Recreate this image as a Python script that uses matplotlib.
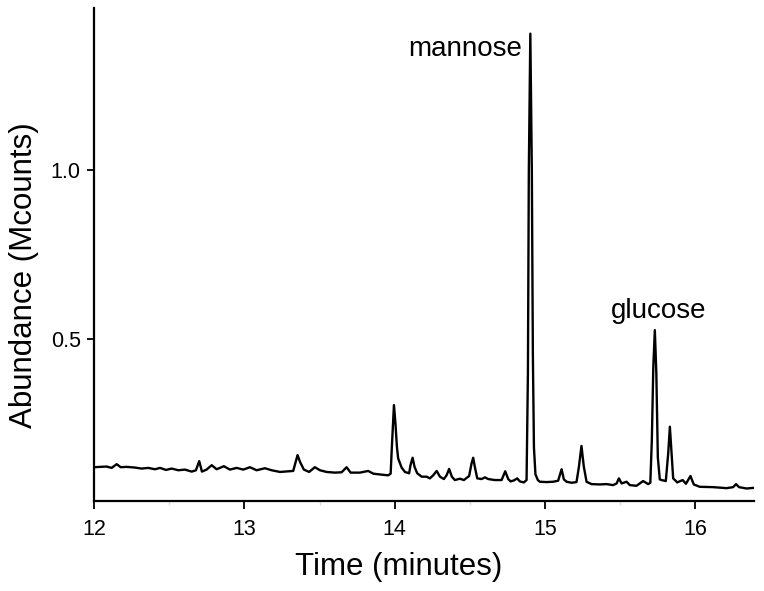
import matplotlib
matplotlib.use("Agg")
import matplotlib.pyplot as plt
from matplotlib.ticker import MultipleLocator

plt.rcParams['font.family'] = ['Liberation Sans', 'DejaVu Sans']

# Retention time (minutes) and abundance (Mcounts)
time_min = [
    12.000, 12.040, 12.084, 12.118, 12.151, 12.178, 12.217, 12.273, 12.317, 12.361,
    12.406, 12.439, 12.479, 12.517, 12.561, 12.605, 12.650, 12.678, 12.700, 12.718,
    12.749, 12.783, 12.816, 12.864, 12.904, 12.949, 12.993, 13.037, 13.082, 13.137,
    13.182, 13.237, 13.292, 13.325, 13.354, 13.370, 13.396, 13.431, 13.469, 13.503,
    13.547, 13.602, 13.647, 13.680, 13.707, 13.769, 13.824, 13.857, 13.913, 13.957,
    13.973, 13.981, 13.995, 14.005, 14.015, 14.023, 14.046, 14.068, 14.096, 14.105,
    14.119, 14.132, 14.150, 14.179, 14.212, 14.234, 14.256, 14.279, 14.301, 14.327,
    14.345, 14.362, 14.380, 14.400, 14.434, 14.460, 14.495, 14.511, 14.522, 14.533,
    14.549, 14.578, 14.600, 14.622, 14.666, 14.711, 14.735, 14.755, 14.771, 14.793,
    14.815, 14.832, 14.859, 14.877, 14.886, 14.892, 14.902, 14.912, 14.919, 14.926,
    14.936, 14.952, 14.965, 15.010, 15.054, 15.087, 15.110, 15.125, 15.143, 15.176,
    15.209, 15.225, 15.242, 15.258, 15.276, 15.309, 15.364, 15.409, 15.453, 15.476,
    15.491, 15.509, 15.542, 15.564, 15.608, 15.652, 15.686, 15.700, 15.710, 15.720,
    15.730, 15.740, 15.750, 15.763, 15.775, 15.803, 15.819, 15.830, 15.841, 15.852,
    15.879, 15.915, 15.937, 15.967, 15.989, 16.029, 16.118, 16.207, 16.251, 16.270,
    16.290, 16.340, 16.390,
]
abundance = [
    0.121, 0.122, 0.123, 0.119, 0.130, 0.121, 0.122, 0.120, 0.117, 0.119,
    0.115, 0.119, 0.113, 0.117, 0.112, 0.114, 0.108, 0.112, 0.139, 0.108,
    0.114, 0.127, 0.115, 0.124, 0.114, 0.119, 0.114, 0.121, 0.112, 0.118,
    0.112, 0.107, 0.109, 0.110, 0.157, 0.137, 0.114, 0.107, 0.121, 0.112,
    0.107, 0.105, 0.106, 0.121, 0.105, 0.105, 0.110, 0.102, 0.099, 0.097,
    0.102, 0.180, 0.305, 0.250, 0.180, 0.147, 0.120, 0.107, 0.103, 0.127,
    0.149, 0.122, 0.103, 0.093, 0.093, 0.088, 0.097, 0.110, 0.093, 0.086,
    0.097, 0.116, 0.093, 0.083, 0.087, 0.083, 0.095, 0.132, 0.149, 0.122,
    0.088, 0.086, 0.091, 0.086, 0.083, 0.083, 0.109, 0.086, 0.079, 0.082,
    0.088, 0.079, 0.076, 0.083, 0.400, 1.000, 1.405, 1.000, 0.450, 0.180,
    0.100, 0.083, 0.078, 0.077, 0.078, 0.081, 0.115, 0.085, 0.078, 0.075,
    0.077, 0.122, 0.184, 0.122, 0.078, 0.071, 0.070, 0.071, 0.068, 0.073,
    0.088, 0.073, 0.078, 0.068, 0.066, 0.080, 0.071, 0.075, 0.200, 0.420,
    0.527, 0.400, 0.150, 0.085, 0.083, 0.080, 0.162, 0.241, 0.162, 0.088,
    0.076, 0.083, 0.072, 0.095, 0.070, 0.063, 0.062, 0.059, 0.062, 0.071,
    0.062, 0.058, 0.060,
]

peak_labels = ["mannose", "glucose"]
peak_label_x = [14.846, 15.757]
peak_label_y = [1.340, 0.562]
peak_label_ha = ["right", "center"]

fig = plt.figure(figsize=(7.64, 5.91), dpi=100)
ax = fig.add_axes([0.123, 0.1523, 0.864, 0.8342])

ax.plot(time_min, abundance, color='black', lw=1.7, solid_joinstyle='round')

for lab, x, y, ha in zip(peak_labels, peak_label_x, peak_label_y, peak_label_ha):
    ax.text(x, y, lab, ha=ha, va='baseline', fontsize=20)

ax.set_xlim(12, 16.39)
ax.set_ylim(0.021, 1.481)
ax.set_xticks([12, 13, 14, 15, 16])
ax.xaxis.set_minor_locator(MultipleLocator(0.5))
ax.set_yticks([0.5, 1.0])
ax.set_yticklabels(["0.5", "1.0"])

for s in ['top', 'right']:
    ax.spines[s].set_visible(False)
for s in ['left', 'bottom']:
    ax.spines[s].set_linewidth(1.6)

ax.tick_params(axis='y', which='major', direction='out', length=5, width=1.3,
               labelsize=15.5, pad=4.5)
ax.tick_params(axis='x', which='major', direction='out', length=6, width=1.3,
               labelsize=15.5, pad=7)
ax.tick_params(axis='x', which='minor', direction='out', length=3, width=1,
               color='#dddddd')

ax.set_xlabel("Time (minutes)", fontsize=22.5)
ax.set_ylabel("Abundance (Mcounts)", fontsize=22.5)
ax.xaxis.set_label_coords(0.461, -0.134)
ax.yaxis.set_label_coords(-0.106, 0.458)
ax.xaxis.label.set_va('center')
ax.yaxis.label.set_va('center')

fig.savefig("out.png", dpi=100)
